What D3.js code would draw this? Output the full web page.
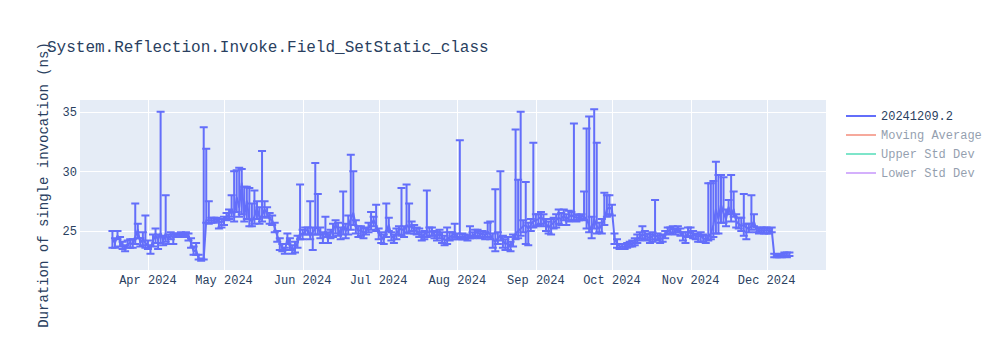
<!DOCTYPE html>
<html>
<head>
<meta charset="utf-8">
<script src="https://cdn.jsdelivr.net/npm/d3@7"></script>
<style>
  body { margin: 0; background: #fff; }
  svg { display: block; }
</style>
</head>
<body>
<svg id="chart" width="1000" height="350"></svg>
<script>
// Daily benchmark runs: mean duration and the spread around it (ns)
const dates = [
  "2024-03-18","2024-03-19","2024-03-20","2024-03-21","2024-03-22","2024-03-23","2024-03-24","2024-03-25","2024-03-26","2024-03-27","2024-03-28","2024-03-29","2024-03-30","2024-03-31",
  "2024-04-01","2024-04-02","2024-04-03","2024-04-04","2024-04-05","2024-04-06","2024-04-07","2024-04-08","2024-04-09","2024-04-10","2024-04-11","2024-04-12","2024-04-13","2024-04-14","2024-04-15","2024-04-16","2024-04-17","2024-04-18","2024-04-19","2024-04-20","2024-04-21","2024-04-22","2024-04-23","2024-04-24","2024-04-25","2024-04-26","2024-04-27","2024-04-28","2024-04-29","2024-04-30",
  "2024-05-01","2024-05-02","2024-05-03","2024-05-04","2024-05-05","2024-05-06","2024-05-07","2024-05-08","2024-05-09","2024-05-10","2024-05-11","2024-05-12","2024-05-13","2024-05-14","2024-05-15","2024-05-16","2024-05-17","2024-05-18","2024-05-19","2024-05-20","2024-05-21","2024-05-22","2024-05-23","2024-05-24","2024-05-25","2024-05-26","2024-05-27","2024-05-28","2024-05-29","2024-05-30","2024-05-31",
  "2024-06-01","2024-06-02","2024-06-03","2024-06-04","2024-06-05","2024-06-06","2024-06-07","2024-06-08","2024-06-09","2024-06-10","2024-06-11","2024-06-12","2024-06-13","2024-06-14","2024-06-15","2024-06-16","2024-06-17","2024-06-18","2024-06-19","2024-06-20","2024-06-21","2024-06-22","2024-06-23","2024-06-24","2024-06-25","2024-06-26","2024-06-27","2024-06-28","2024-06-29","2024-06-30",
  "2024-07-01","2024-07-02","2024-07-03","2024-07-04","2024-07-05","2024-07-06","2024-07-07","2024-07-08","2024-07-09","2024-07-10","2024-07-11","2024-07-12","2024-07-13","2024-07-14","2024-07-15","2024-07-16","2024-07-17","2024-07-18","2024-07-19","2024-07-20","2024-07-21","2024-07-22","2024-07-23","2024-07-24","2024-07-25","2024-07-26","2024-07-27","2024-07-28","2024-07-29","2024-07-30","2024-07-31",
  "2024-08-01","2024-08-02","2024-08-03","2024-08-04","2024-08-05","2024-08-06","2024-08-07","2024-08-08","2024-08-09","2024-08-10","2024-08-11","2024-08-12","2024-08-13","2024-08-14","2024-08-15","2024-08-16","2024-08-17","2024-08-18","2024-08-19","2024-08-20","2024-08-21","2024-08-22","2024-08-23","2024-08-24","2024-08-25","2024-08-26","2024-08-27","2024-08-28","2024-08-29","2024-08-30","2024-08-31",
  "2024-09-01","2024-09-02","2024-09-03","2024-09-04","2024-09-05","2024-09-06","2024-09-07","2024-09-08","2024-09-09","2024-09-10","2024-09-11","2024-09-12","2024-09-13","2024-09-14","2024-09-15","2024-09-16","2024-09-17","2024-09-18","2024-09-19","2024-09-20","2024-09-21","2024-09-22","2024-09-23","2024-09-24","2024-09-25","2024-09-26","2024-09-27","2024-09-28","2024-09-29","2024-09-30",
  "2024-10-01","2024-10-02","2024-10-03","2024-10-04","2024-10-05","2024-10-06","2024-10-07","2024-10-08","2024-10-09","2024-10-10","2024-10-11","2024-10-12","2024-10-13","2024-10-14","2024-10-15","2024-10-16","2024-10-17","2024-10-18","2024-10-19","2024-10-20","2024-10-21","2024-10-22","2024-10-23","2024-10-24","2024-10-25","2024-10-26","2024-10-27","2024-10-28","2024-10-29","2024-10-30","2024-10-31",
  "2024-11-01","2024-11-02","2024-11-03","2024-11-04","2024-11-05","2024-11-06","2024-11-07","2024-11-08","2024-11-09","2024-11-10","2024-11-11","2024-11-12","2024-11-13","2024-11-14","2024-11-15","2024-11-16","2024-11-17","2024-11-18","2024-11-19","2024-11-20","2024-11-21","2024-11-22","2024-11-23","2024-11-24","2024-11-25","2024-11-26","2024-11-27","2024-11-28","2024-11-29","2024-11-30",
  "2024-12-01","2024-12-02","2024-12-03","2024-12-04","2024-12-05","2024-12-06","2024-12-07","2024-12-08","2024-12-09","2024-12-10"
];

const means = [
  24.3,24.0,24.6,24.2,23.8,23.6,23.9,24.0,23.9,24.5,25.1,24.0,24.3,24.0,
  23.8,23.5,24.2,24.6,24.3,24.8,24.2,24.6,24.4,24.6,24.5,24.7,24.7,24.7,24.7,24.7,24.6,24.0,23.3,23.4,22.7,22.6,22.7,25.9,25.9,25.9,25.9,26.0,25.8,25.7,
  25.9,26.2,26.4,26.8,26.3,27.8,27.0,29.0,26.3,27.5,26.0,25.8,26.2,27.0,26.1,26.3,26.8,26.5,26.0,25.9,25.3,24.6,24.0,23.6,23.3,24.4,23.8,23.4,23.6,24.0,24.8,
  24.7,25.0,25.1,24.6,24.9,25.2,25.3,24.8,24.6,24.9,24.5,24.8,25.1,25.5,25.2,24.7,25.5,25.0,25.4,26.0,26.5,25.4,25.0,25.1,24.8,25.0,25.3,25.6,25.9,25.5,
  24.8,24.5,24.3,25.0,25.5,24.6,24.4,24.8,25.1,25.2,25.0,25.5,25.3,25.4,25.1,25.0,24.8,24.6,24.7,24.9,24.9,25.0,24.7,24.5,24.8,24.5,24.2,24.3,24.5,24.6,24.8,
  24.5,24.5,24.5,24.5,24.4,24.6,24.6,24.8,24.9,24.7,24.8,24.6,24.9,24.7,24.3,24.1,24.4,24.6,24.2,23.9,24.0,23.7,24.2,24.8,25.0,25.2,25.4,25.5,25.2,25.5,25.8,
  25.9,26.0,26.2,25.9,25.6,25.3,25.5,25.7,25.9,26.1,26.0,26.3,26.0,26.2,26.3,26.2,26.1,26.1,26.2,26.2,26.0,25.5,25.0,26.0,25.4,25.2,25.5,26.0,26.8,27.0,
  26.8,24.4,24.0,23.7,23.7,23.7,23.8,23.9,23.9,24.1,24.3,24.5,24.7,24.6,24.5,24.4,24.6,24.6,24.5,24.3,24.4,24.7,25.0,25.1,25.2,25.0,25.2,24.9,24.6,24.5,24.8,
  24.9,24.7,24.6,24.5,24.6,24.4,24.3,24.5,24.8,25.5,26.8,26.0,27.2,26.5,26.0,27.0,26.3,26.8,25.8,25.6,25.4,25.5,25.3,25.2,25.4,25.8,25.1,25.0,25.1,25.0,
  25.1,25.0,25.1,23.0,22.9,22.9,22.9,23.0,22.9,23.0
];

const errPlus = [
  0.7,0.4,0.4,0.3,0.3,0.2,0.3,0.3,0.4,2.8,0.5,0.4,0.6,2.3,
  0.4,0.3,0.5,0.6,0.4,10.2,0.4,3.4,0.3,0.3,0.2,0.1,0.1,0.2,0.1,0.2,0.2,0.4,0.4,0.6,0.3,0.1,11.0,6.0,1.6,0.2,0.2,0.1,0.2,0.3,
  0.3,0.3,0.4,1.2,3.7,2.3,3.3,1.2,2.4,1.2,2.6,1.5,2.2,0.5,0.9,5.4,0.7,0.5,0.5,0.4,0.4,0.4,0.4,0.3,0.3,0.4,0.6,0.4,0.5,0.6,4.1,
  0.4,0.3,0.2,2.9,0.4,5.5,2.8,0.5,0.3,1.3,0.4,0.3,0.5,0.4,0.5,0.6,2.8,0.6,0.9,5.4,3.5,0.5,0.4,0.3,0.4,0.3,0.4,1.0,0.3,1.7,
  0.4,0.4,0.4,2.3,0.6,0.3,0.3,0.4,0.3,3.4,0.4,3.4,2.0,0.4,0.4,0.3,0.4,0.3,0.3,3.5,0.4,0.3,0.3,0.4,0.3,0.4,0.4,1.0,0.4,0.3,0.8,
  0.3,8.1,0.3,0.2,0.2,0.8,0.3,0.3,0.2,0.3,0.2,0.3,0.8,1.1,0.5,4.4,0.5,5.4,0.4,0.4,0.5,0.4,0.5,8.7,4.3,9.8,0.5,3.6,0.5,0.5,6.6,
  0.5,0.4,0.4,0.5,0.4,0.5,0.5,0.4,0.5,0.7,0.5,0.5,0.4,0.5,0.3,7.8,0.3,0.2,0.2,2.1,7.6,9.1,1.2,9.2,7.0,0.5,0.5,2.2,1.2,1.0,
  0.4,0.4,0.3,0.2,0.2,0.2,0.2,0.2,0.3,0.3,0.4,0.4,0.7,0.4,0.3,0.3,0.3,3.0,0.3,0.3,0.3,0.3,0.3,0.2,0.2,0.2,0.2,0.3,0.3,0.4,0.5,
  0.4,0.3,0.2,0.2,0.3,0.3,0.3,4.5,4.2,3.7,4.0,3.7,2.5,3.0,0.8,0.6,3.4,1.5,0.6,0.5,0.7,2.6,0.3,0.4,2.6,0.6,0.2,0.2,0.2,0.3,
  0.2,0.2,0.2,0.1,0.1,0.1,0.2,0.2,0.3,0.2
];

const errMinus = [
  0.7,0.4,0.3,0.5,0.3,0.3,0.3,0.4,0.3,0.6,0.7,0.3,0.5,0.4,
  0.3,0.4,0.5,0.6,0.8,0.8,0.4,0.5,0.5,0.3,0.6,0.2,0.1,0.2,0.1,0.2,0.4,0.4,0.3,0.4,0.1,0.1,0.1,0.2,0.3,0.2,0.2,0.2,0.6,0.4,
  0.4,0.3,0.4,0.6,0.5,1.2,0.8,2.6,0.5,1.5,0.6,0.4,0.6,1.0,0.5,0.5,0.6,0.4,0.4,0.4,0.4,0.5,0.6,0.3,0.2,0.5,0.4,0.3,0.4,0.4,0.5,
  0.4,0.3,0.4,0.3,1.5,0.5,0.6,0.4,0.6,0.4,0.5,0.4,0.6,0.7,0.6,0.4,0.8,0.6,0.7,0.9,1.0,0.6,0.5,0.5,0.4,0.3,0.4,0.5,0.5,0.5,
  0.5,0.5,0.4,0.5,0.5,0.4,0.4,0.5,0.4,0.6,0.5,0.6,0.5,0.4,0.3,0.3,0.3,0.4,0.4,0.4,0.3,0.4,0.3,0.3,0.4,0.5,0.4,0.4,0.3,0.3,0.3,
  0.2,0.2,0.2,0.2,0.2,0.2,0.2,0.3,0.3,0.3,0.3,0.3,0.4,0.4,0.7,0.8,0.5,0.4,0.6,0.5,0.6,0.4,0.5,0.5,0.6,0.6,0.5,1.6,1.4,0.5,0.5,
  0.5,0.5,0.6,0.5,0.6,0.5,0.8,0.5,0.6,0.5,0.5,0.4,0.5,0.4,0.4,0.3,0.3,0.2,0.2,0.3,0.8,0.6,0.6,0.8,0.6,0.3,0.7,0.5,0.6,0.6,
  0.5,0.5,0.4,0.2,0.2,0.2,0.2,0.2,0.2,0.3,0.3,0.3,0.3,0.3,0.3,0.4,0.5,0.3,0.3,0.3,0.3,0.3,0.3,0.3,0.3,0.3,0.3,0.3,0.4,0.5,0.3,
  0.3,0.3,0.3,0.4,0.5,0.3,0.3,0.3,0.5,1.0,2.0,1.2,1.5,0.8,0.6,0.6,0.5,0.6,0.5,0.4,0.4,0.9,1.0,0.3,0.3,0.4,0.2,0.2,0.2,0.2,
  0.3,0.2,0.2,0.2,0.1,0.1,0.1,0.1,0.1,0.1
];

const yTicks = [25, 30, 35];
const xDomain = ["2024-03-05T05:00:00Z", "2024-12-24T10:00:00Z"];
const yDomain = [21.73, 35.98];

const titleText = "System.Reflection.Invoke.Field_SetStatic_class";
const yTitleText = "Duration of single invocation (ns)";
const legendNames = ["20241209.2", "Moving Average", "Upper Std Dev", "Lower Std Dev"];
const legendColors = ["#636efa", "#EF553B", "#00cc96", "#ab63fa"];
const legendVisible = [true, false, false, false];

// ---- layout ----
const FONT = "'Liberation Mono', 'Courier New', monospace";
const TEXT = "#2a3f5f";
const plot = { left: 80, right: 826, top: 100, bottom: 270 };

const svg = d3.select("#chart").style("font-family", FONT);

const parse = d3.utcParse("%Y-%m-%d");
const points = dates.map((d, i) => ({
  date: parse(d), mean: means[i], hi: means[i] + errPlus[i], lo: means[i] - errMinus[i]
}));

const x = d3.scaleUtc().domain(xDomain.map(d => new Date(d))).range([plot.left, plot.right]);
const y = d3.scaleLinear().domain(yDomain).range([plot.bottom, plot.top]);

// plot background
svg.append("rect")
  .attr("x", plot.left).attr("y", plot.top)
  .attr("width", plot.right - plot.left).attr("height", plot.bottom - plot.top)
  .attr("fill", "#e5ecf6");

// gridlines
const xTicks = x.ticks(d3.utcMonth.every(1)).filter(d => x(d) > plot.left + 1 && x(d) < plot.right - 1);
svg.append("g").selectAll("line").data(xTicks).join("line")
  .attr("x1", d => Math.round(x(d)) + 0.5).attr("x2", d => Math.round(x(d)) + 0.5)
  .attr("y1", plot.top).attr("y2", plot.bottom)
  .attr("stroke", "#fff").attr("stroke-width", 1);
svg.append("g").selectAll("line").data(yTicks).join("line")
  .attr("x1", plot.left).attr("x2", plot.right)
  .attr("y1", d => Math.round(y(d)) + 0.5).attr("y2", d => Math.round(y(d)) + 0.5)
  .attr("stroke", "#fff").attr("stroke-width", 1);

// axis labels
const fmt = d3.utcFormat("%b %Y");
svg.append("g").selectAll("text").data(xTicks).join("text")
  .attr("x", d => x(d)).attr("y", 284)
  .attr("text-anchor", "middle")
  .attr("font-size", 12).attr("fill", TEXT)
  .text(d => fmt(d));
svg.append("g").selectAll("text").data(yTicks).join("text")
  .attr("x", 77).attr("y", d => y(d))
  .attr("dy", "0.35em")
  .attr("text-anchor", "end")
  .attr("font-size", 12).attr("fill", TEXT)
  .text(d => d);

// clip the series to the plot area
svg.append("clipPath").attr("id", "plotClip")
  .append("rect")
  .attr("x", plot.left).attr("y", plot.top)
  .attr("width", plot.right - plot.left).attr("height", plot.bottom - plot.top);

const series = svg.append("g").attr("clip-path", "url(#plotClip)");
const COLOR = legendColors[0];

// mean line
series.append("path")
  .datum(points)
  .attr("fill", "none")
  .attr("stroke", COLOR)
  .attr("stroke-width", 2)
  .attr("stroke-linejoin", "round")
  .attr("d", d3.line().x(d => x(d.date)).y(d => y(d.mean)));

// error bars with caps
const CAP = 4;
series.append("g").selectAll("path").data(points).join("path")
  .attr("fill", "none")
  .attr("stroke", COLOR)
  .attr("stroke-width", 2)
  .attr("d", d => {
    const cx = x(d.date), yh = y(d.hi), yl = y(d.lo);
    return `M${cx - CAP},${yh}h${2 * CAP}m${-CAP},0V${yl}m${-CAP},0h${2 * CAP}`;
  });

// title
svg.append("text")
  .attr("x", 47).attr("y", 52)
  .attr("font-size", 16).attr("fill", TEXT)
  .text(titleText);

// y-axis title
svg.append("text")
  .attr("transform", "translate(43,185) rotate(-90)")
  .attr("text-anchor", "middle")
  .attr("dy", "0.35em")
  .attr("font-size", 14).attr("fill", TEXT)
  .text(yTitleText);

// legend
const legend = svg.append("g").selectAll("g").data(legendNames).join("g")
  .attr("transform", (d, i) => `translate(846,${116 + i * 19})`)
  .attr("opacity", (d, i) => legendVisible[i] ? 1 : 0.5);
legend.append("line")
  .attr("x1", 0).attr("x2", 30).attr("y1", 0).attr("y2", 0)
  .attr("stroke", (d, i) => legendColors[i]).attr("stroke-width", 2);
legend.append("text")
  .attr("x", 35).attr("y", 0).attr("dy", "0.35em")
  .attr("font-size", 12).attr("fill", TEXT)
  .text(d => d);
</script>
</body>
</html>
